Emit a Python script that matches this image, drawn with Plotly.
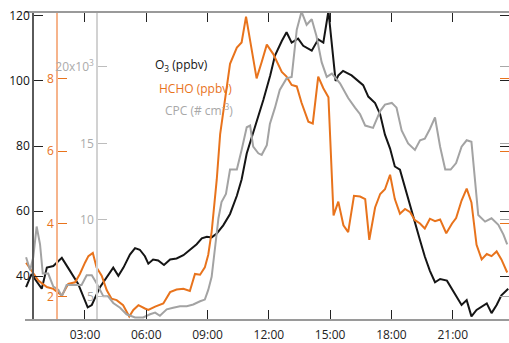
import plotly.graph_objects as go

# ---------------- data ----------------
o3_time = ["00:07","00:23","00:53","01:08","01:27","01:52","02:16","02:40","03:08","03:20",
           "03:44","04:04","04:23","04:38","04:53","05:12","05:27","05:41","05:56","06:06",
           "06:20","06:35","06:52","07:10","07:29","07:49","08:08","08:28","08:43","08:58",
           "09:12","09:27","09:46","10:06","10:26","10:40","10:55","11:10","11:24","11:44",
           "12:04","12:18","12:38","12:52","13:07","13:26","13:41","14:06","14:25","14:40",
           "14:55","15:16","15:24","15:38","16:03","16:37","16:52","17:12","17:27","17:41",
           "17:56","18:10","18:25","18:40","18:55","19:09","19:24","19:38","19:53","20:08",
           "20:23","20:43","21:02","21:26","21:41","21:55","22:10","22:25","22:40","22:54",
           "23:09","23:23","23:43"]
o3_ppbv = [36.6,40.6,36.1,42.6,43.1,45.6,41.6,37.6,30.4,31.1,
           36.6,39.6,42.6,40.1,42.6,46.6,48.6,48.1,46.1,43.8,
           45.1,44.8,43.4,45.1,45.4,46.4,48.1,49.8,51.6,52.1,
           51.9,53.1,55.6,59.1,64.7,69.7,77.7,82.7,87.7,94.2,
           101.7,107.8,112.3,115.0,111.8,113.0,110.8,109.3,112.8,111.8,
           121.5,100.0,101.7,103.1,101.7,98.7,95.2,93.2,89.7,83.5,
           79.2,73.7,72.7,67.0,62.0,56.5,51.0,46.0,41.6,38.1,
           39.1,38.6,35.1,31.1,32.6,27.6,29.6,30.6,31.6,28.6,
           31.1,34.1,36.1]

hcho_time = ["00:07","00:23","00:43","01:08","01:27","01:52","02:11","02:31","02:45","03:00",
             "03:10","03:23","03:34","03:49","04:04","04:18","04:33","04:52","05:10","05:22",
             "05:37","05:56","06:06","06:26","06:50","07:10","07:29","07:49","08:08","08:23",
             "08:38","08:52","09:02","09:12","09:27","09:37","09:51","10:06","10:26","10:40",
             "10:53","11:05","11:24","11:39","11:54","12:13","12:38","12:52","13:07","13:22",
             "13:36","13:56","14:09","14:25","14:40","14:55","15:10","15:24","15:39","15:53",
             "16:10","16:28","16:43","16:55","17:12","17:27","17:41","17:56","18:10","18:25",
             "18:40","18:55","19:09","19:24","19:38","19:53","20:08","20:23","20:41","20:58",
             "21:10","21:26","21:41","21:55","22:10","22:25","22:40","22:54","23:09","23:23",
             "23:40"]
hcho_ppbv = [2.93,2.70,2.44,2.26,2.21,2.03,2.35,2.39,2.62,2.93,
             3.11,3.20,2.80,2.57,2.17,1.94,1.90,1.76,1.45,1.63,
             1.76,1.67,1.63,1.72,1.81,2.12,2.19,2.21,2.15,2.62,
             2.60,2.80,3.15,3.78,5.22,6.47,7.37,8.40,8.85,8.99,
             9.70,9.08,8.00,8.45,8.93,8.67,8.18,8.05,7.82,7.78,
             7.33,6.81,6.76,8.05,7.73,7.48,4.23,4.61,3.96,3.77,
             4.77,4.75,4.68,3.56,4.45,4.82,4.95,5.35,4.68,4.28,
             4.41,4.32,4.10,4.01,3.87,4.14,4.07,4.12,3.74,4.01,
             4.16,4.64,4.97,4.59,3.42,3.02,3.17,3.11,3.24,3.02,
             2.66]

cpc_time = ["00:07","00:19","00:28","00:38","00:48","00:56","01:12","01:27","01:42","01:52",
            "02:06","02:26","02:50","03:05","03:20","03:34","03:54","04:08","04:23","04:43",
            "05:02","05:27","05:51","06:11","06:26","06:40","07:00","07:19","07:39","07:59",
            "08:18","08:38","08:52","09:02","09:12","09:22","09:32","09:41","09:54","10:06",
            "10:26","10:40","10:55","11:05","11:14","11:29","11:39","11:54","12:03","12:18",
            "12:32","12:52","13:07","13:22","13:36","13:51","14:06","14:20","14:35","14:50",
            "15:05","15:29","15:53","16:13","16:28","16:43","17:06","17:27","17:41","18:01",
            "18:15","18:30","18:49","19:09","19:24","19:38","19:53","20:08","20:23","20:38",
            "20:54","21:10","21:26","21:41","21:55","22:15","22:35","22:54","23:14","23:29",
            "23:40"]
cpc_cm3 = [7560,6710,7560,9570,8410,6500,6500,5650,5430,5010,
           5750,5750,5750,6390,6390,5860,5010,5010,4580,4270,
           3840,3630,3630,3840,3950,3740,4160,4270,4370,4370,
           4480,4690,4800,5430,6290,8200,10110,11170,11700,13290,
           13290,14570,16050,16160,14780,14350,14250,14880,16260,17330,
           18490,19240,19340,22420,23600,22740,23100,21990,20300,19340,
           19550,18920,17960,17330,16900,16160,16010,17110,17530,17640,
           17330,15840,14990,14570,15200,15310,15940,16690,14780,13290,
           13290,13710,14780,15200,15100,10320,9890,10110,9680,9040,
           8410]

x_ticks = ["03:00","06:00","09:00","12:00","15:00","18:00","21:00"]
o3_ticks = [40, 60, 80, 100, 120]
hcho_ticks = [2, 4, 6, 8]
cpc_ticks = [5000, 10000, 15000, 20000]
cpc_ticktext = ["5", "10", "15", "20x10<sup>3</sup>"]

DAY = "2000-01-01 "
def ts(lst):
    return [DAY + t for t in lst]

BLACK = "#151515"
ORANGE = "#E8731C"
GRAY = "#A3A3A3"
FONT = "Open Sans"

W, H = 509, 343
ML, MR, MT, MB = 25, 0, 13, 17
PW = W - ML - MR

def px(xpix):
    return (xpix - ML) / PW

O3_RANGE = [26.8, 120.9]
HCHO_RANGE = [1.381, 9.80]
CPC_RANGE = [3532, 23510]

fig = go.Figure()
fig.add_trace(go.Scatter(x=ts(cpc_time), y=cpc_cm3, mode="lines", yaxis="y3",
                         line=dict(color=GRAY, width=2), showlegend=False))
fig.add_trace(go.Scatter(x=ts(hcho_time), y=hcho_ppbv, mode="lines", yaxis="y2",
                         line=dict(color=ORANGE, width=2), showlegend=False))
fig.add_trace(go.Scatter(x=ts(o3_time), y=o3_ppbv, mode="lines", yaxis="y",
                         line=dict(color=BLACK, width=2), showlegend=False))
# empty traces to host right-side tick axes
for ax in ["y4", "y5", "y6"]:
    fig.add_trace(go.Scatter(x=[DAY + "12:00"], y=[None], yaxis=ax, mode="lines",
                             showlegend=False, hoverinfo="skip"))

common_y = dict(showgrid=False, zeroline=False, ticks="inside", ticklen=9,
                tickwidth=1.2)

fig.update_layout(
    width=W, height=H,
    margin=dict(l=ML, r=MR, t=MT, b=MB, pad=0),
    paper_bgcolor="white", plot_bgcolor="white",
    font=dict(family=FONT, size=12, color="#222"),
    xaxis=dict(type="date",
               range=[DAY + "00:03:49", DAY + "23:45:18"],
               tickvals=ts(x_ticks), tickformat="%H:%M",
               ticks="inside", ticklen=9, tickwidth=1.2, tickcolor="#222",
               showline=True, linecolor="#9a9a9a", linewidth=2, mirror="ticks",
               showgrid=False, zeroline=False, ticklabelstandoff=4,
               tickfont=dict(family=FONT, size=12, color="#222")),
    yaxis=dict(range=O3_RANGE, tickvals=o3_ticks, anchor="free", position=px(33),
               showline=True, linecolor="#5a5a5a", linewidth=1.5, tickcolor="#222",
               tickfont=dict(family=FONT, size=12, color="#111"), **common_y),
    yaxis2=dict(range=HCHO_RANGE, tickvals=hcho_ticks, overlaying="y", anchor="free",
                position=px(57), side="left",
                showline=True, linecolor="#F6B48C", linewidth=1.5, tickcolor=ORANGE,
                tickfont=dict(family=FONT, size=12, color=ORANGE), **common_y),
    yaxis3=dict(range=CPC_RANGE, tickvals=cpc_ticks, ticktext=cpc_ticktext,
                overlaying="y", anchor="free", position=px(97), side="left",
                showline=True, linecolor="#D2D2D2", linewidth=1.5, tickcolor="#BDBDBD",
                tickfont=dict(family=FONT, size=12, color="#ABABAB"), **common_y),
    yaxis4=dict(range=O3_RANGE, tickvals=o3_ticks, overlaying="y", anchor="free",
                position=1, side="right", showticklabels=False, showline=False,
                tickcolor="#222", **common_y),
    yaxis5=dict(range=HCHO_RANGE, tickvals=hcho_ticks, overlaying="y", anchor="free",
                position=1, side="right", showticklabels=False, showline=False,
                tickcolor=ORANGE, **common_y),
    yaxis6=dict(range=CPC_RANGE, tickvals=cpc_ticks, overlaying="y", anchor="free",
                position=1, side="right", showticklabels=False, showline=False,
                tickcolor="#A8A8A8", **common_y),
)

H_PLOT = H - MT - MB
def py(ypix):
    return (H - MB - ypix) / H_PLOT

labels = [("O<sub>3</sub> (ppbv)", BLACK, 153, 66.5),
          ("HCHO (ppbv)", ORANGE, 157, 90),
          ("CPC (# cm<sup>-3</sup>)", "#A8A8A8", 163, 112.5)]
for text, col, xp, yp in labels:
    fig.add_annotation(text=text, xref="paper", yref="paper", x=px(xp), y=py(yp),
                       xanchor="left", yanchor="middle", showarrow=False,
                       font=dict(family=FONT, size=12, color=col))

fig.write_html("out.html")
